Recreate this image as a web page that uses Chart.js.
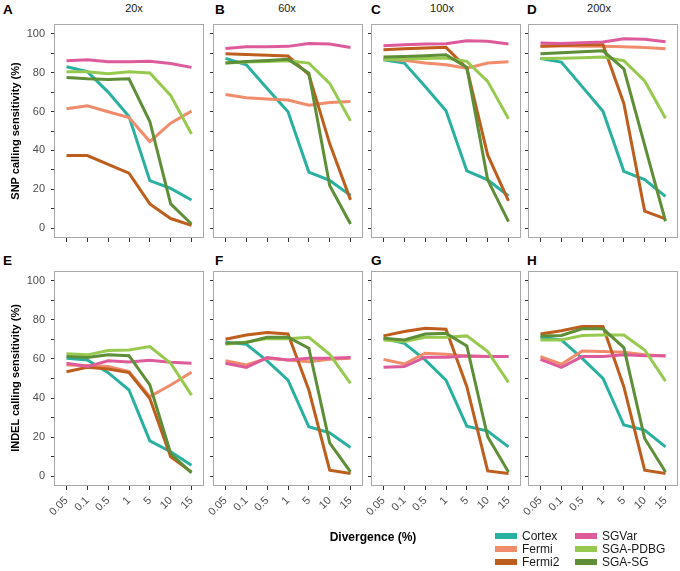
<!DOCTYPE html>
<html><head><meta charset="utf-8">
<script src="https://cdn.jsdelivr.net/npm/chart.js@4.4.1/dist/chart.umd.min.js"></script>
<style>
body{margin:0;background:#fff;width:680px;height:571px;position:relative;overflow:hidden;font-family:"Liberation Sans",Arial,Helvetica,sans-serif;}
.abs{position:absolute;white-space:nowrap;}
canvas{position:absolute;}
.letter{font-weight:bold;font-size:13.5px;line-height:13.5px;color:#000;}
.ptitle{font-size:11px;line-height:11px;color:#1a1a1a;width:60px;text-align:center;}
.ytitle{font-weight:bold;font-size:11px;line-height:12px;color:#000;transform:translate(-50%,-50%) rotate(-90deg);}
.xtitle{font-weight:bold;font-size:12px;line-height:12px;color:#000;transform:translateX(-50%);}
.sw{position:absolute;width:22px;height:6px;}
.lt{font-size:12px;line-height:12px;color:#1a1a1a;}
</style></head><body>
<script>
// ---- data ----
const divergence = ['0.05','0.1','0.5','1','5','10','15'];
const methods = ['Cortex','Fermi','Fermi2','SGVar','SGA-PDBG','SGA-SG'];
const methodColors = ['#2AB0A0','#F08C6C','#BD5E1E','#DE5B9B','#98C94F','#5E8E37'];
const coverages = ['20x','60x','100x','200x'];
const yTicks = [0,10,20,30,40,50,60,70,80,90,100];

// rows: Cortex, Fermi, Fermi2, SGVar, SGA-PDBG, SGA-SG
const snp20x = [
  [83, 80.5, 70, 57.5, 24.5, 20.5, 14.5],
  [61.4, 63.0, 59.9, 56.9, 44.6, 54.0, 60.2],
  [37.4, 37.4, 32.8, 28.3, 12.5, 5.0, 1.5],
  [86.1, 86.6, 85.6, 85.6, 85.8, 84.7, 82.7],
  [80.4, 80.4, 79.4, 80.4, 79.8, 68.3, 48.5],
  [77.5, 76.8, 76.5, 76.8, 54.9, 12.5, 2.2]
];
const snp60x = [
  [87.3, 84.0, 71.9, 59.9, 28.9, 24.6, 16.9],
  [68.8, 67.1, 66.4, 65.9, 63.3, 64.7, 65.1],
  [89.7, 89.3, 89.0, 88.6, 79, 43.5, 14.6],
  [92.4, 93.3, 93.3, 93.5, 95.0, 94.7, 92.9],
  [84.9, 85.5, 85.7, 86.1, 84.9, 74.5, 55.2],
  [84.9, 85.7, 86.2, 86.9, 79.7, 22.0, 2.2]
];
const snp100x = [
  [86.6, 84.9, 72.9, 60.4, 29.5, 24.9, 16.6],
  [87.0, 86.3, 84.9, 84.0, 82.3, 84.9, 85.6],
  [91.8, 92.3, 92.6, 93.0, 82.3, 37.7, 14.1],
  [93.8, 94.3, 94.7, 94.9, 96.4, 96.1, 94.7],
  [86.6, 87.0, 87.3, 87.5, 85.8, 75.5, 56.3],
  [88.0, 88.3, 88.7, 89.2, 82.7, 24.9, 3.4]
];
const snp200x = [
  [87.3, 85.4, 72.8, 60.2, 29.3, 25.0, 16.4],
  [93.6, 93.8, 93.6, 93.5, 93.3, 92.9, 92.3],
  [93.5, 94.0, 94.3, 94.3, 64.2, 8.8, 4.8],
  [95.2, 95.0, 95.4, 95.7, 97.4, 97.2, 95.9],
  [87.3, 87.4, 87.6, 88.0, 86.1, 75.7, 56.5],
  [89.7, 90.2, 90.7, 91.2, 81.9, 42.7, 3.6]
];
const indel20x = [
  [60.3, 59.5, 53.0, 44.1, 18.1, 12.5, 5.6],
  [56.9, 56.6, 56.1, 53.5, 40.7, 46.7, 53.2],
  [53.5, 55.7, 54.9, 53.0, 39.8, 9.9, 2.2],
  [57.8, 56.1, 59.1, 58.5, 59.3, 58.3, 57.8],
  [62.6, 62.1, 64.3, 64.6, 66.3, 57.8, 41.5],
  [61.2, 60.7, 62.1, 61.7, 46.7, 11.6, 1.7]
];
const indel60x = [
  [68.5, 67.5, 59.0, 49.2, 25.3, 22.2, 14.7],
  [59.1, 56.9, 60.3, 59.5, 58.6, 59.8, 60.3],
  [70.1, 72.3, 73.5, 72.8, 44.1, 3.1, 1.4],
  [57.8, 55.7, 60.7, 59.5, 60.3, 60.3, 60.7],
  [67.5, 68.7, 70.4, 70.4, 71.1, 62.4, 47.5],
  [68.0, 68.4, 71.1, 71.1, 65.5, 17.1, 2.2]
];
const indel100x = [
  [70.6, 68.0, 59.5, 49.2, 25.6, 23.1, 15.0],
  [59.8, 57.4, 62.9, 62.4, 61.5, 61.2, 61.2],
  [71.8, 74.0, 75.7, 75.2, 45.8, 2.7, 1.4],
  [55.7, 56.1, 60.9, 60.9, 61.5, 61.2, 61.2],
  [69.7, 68.9, 71.1, 71.1, 71.8, 63.8, 48.0],
  [70.6, 69.7, 72.8, 73.2, 66.7, 20.2, 2.2]
];
const indel200x = [
  [71.1, 69.7, 60.3, 50.1, 26.2, 23.6, 15.0],
  [61.2, 57.3, 64.1, 63.8, 63.4, 62.2, 61.5],
  [72.8, 74.4, 76.6, 76.6, 45.8, 3.1, 1.4],
  [59.8, 55.7, 61.2, 61.2, 62.1, 61.7, 61.7],
  [69.7, 69.7, 72.0, 72.3, 72.3, 64.6, 48.7],
  [71.8, 72.0, 75.4, 75.4, 65.8, 19.3, 2.2]
];

const snpPanels = [snp20x, snp60x, snp100x, snp200x];
const indelPanels = [indel20x, indel60x, indel100x, indel200x];
const topLetters = ['A','B','C','D'];
const bottomLetters = ['E','F','G','H'];

// ---- layout ----
const FONT = '"Liberation Sans", Arial, Helvetica, sans-serif';
const boxLefts = [54, 213, 371, 528];
const boxW = 150;
const YW = 50;
const rows = [
  {top:24, h:214, xh:6, panels:snpPanels, showX:false},
  {top:271, h:215, xh:45, panels:indelPanels, showX:true}
];

const boxPlugin = {
  id:'box',
  afterDraw(chart){
    const {ctx, chartArea:a} = chart;
    ctx.save();
    ctx.strokeStyle = '#A8A8A8';
    ctx.lineWidth = 1;
    ctx.strokeRect(Math.round(a.left)+0.5, Math.round(a.top)+0.5, Math.round(a.right-a.left)-1, Math.round(a.bottom-a.top)-1);
    ctx.restore();
  }
};

function zeroPad(s){ s.paddingTop=0; s.paddingBottom=0; s.paddingLeft=0; s.paddingRight=0; }

rows.forEach((row, r) => {
  row.panels.forEach((panel, c) => {
    const cv = document.createElement('canvas');
    const W = YW + boxW + 2, H = 2 + row.h + row.xh;
    cv.width = W; cv.height = H;
    cv.style.left = (boxLefts[c] - YW) + 'px';
    cv.style.top = (row.top - 2) + 'px';
    cv.style.width = W + 'px'; cv.style.height = H + 'px';
    document.body.appendChild(cv);
    const showY = (c === 0);
    new Chart(cv.getContext('2d'), {
      type:'line',
      data:{
        datasets: methods.map((m, k) => ({
          label:m,
          data: panel[k].map((v, i) => ({x:i, y:v})),
          borderColor: methodColors[k],
          backgroundColor: methodColors[k],
          borderWidth:3,
          pointRadius:0,
          tension:0,
          fill:false,
          order: methods.length - k
        }))
      },
      options:{
        responsive:false, animation:false, devicePixelRatio:1,
        layout:{padding:{top:2, right:2, left:0, bottom:0}},
        plugins:{legend:{display:false}, tooltip:{enabled:false}},
        events:[],
        scales:{
          x:{
            type:'linear', min:-0.6, max:6.6,
            afterBuildTicks: s => { s.ticks = divergence.map((d, i) => ({value:i})); },
            afterFit: s => { s.height = row.xh; zeroPad(s); },
            grid:{display:true, drawOnChartArea:false, drawTicks:true, tickLength:4, color:'#333', lineWidth:1},
            border:{display:false},
            ticks:{
              autoSkip:false, minRotation:45, maxRotation:45, padding:4,
              color:'#4D4D4D', font:{size:11, family:FONT},
              callback: v => row.showX ? divergence[v] : ''
            }
          },
          y:{
            type:'linear', min:-5, max:105,
            afterBuildTicks: s => { s.ticks = yTicks.map(v => ({value:v})); },
            afterFit: s => { s.width = YW; zeroPad(s); },
            grid:{display:true, drawOnChartArea:false, drawTicks:true, tickLength:3, color:'#333', lineWidth:1},
            border:{display:false},
            ticks:{
              padding:6, color:'#4D4D4D', font:{size:11, family:FONT},
              callback: v => (showY && v % 20 === 0) ? String(v) : ''
            }
          }
        }
      },
      plugins:[boxPlugin]
    });
  });
});

// ---- text ----
function addText(cls, text, left, top){
  const d = document.createElement('div');
  d.className = 'abs ' + cls;
  d.textContent = text;
  d.style.left = left + 'px';
  d.style.top = top + 'px';
  document.body.appendChild(d);
  return d;
}
const letterX = [3, 215, 371, 527];
const titleCX = [134, 287, 442, 599];
topLetters.forEach((L, i) => addText('letter', L, letterX[i], 3));
bottomLetters.forEach((L, i) => addText('letter', L, letterX[i], 254));
coverages.forEach((t, i) => addText('ptitle', t, titleCX[i] - 30, 3));
addText('ytitle', 'SNP calling sensitivity (%)', 15, 131);
addText('ytitle', 'INDEL calling sensitivity (%)', 15, 378);
addText('xtitle', 'Divergence (%)', 373, 531);

// legend
const legX = [495, 575];
const legY = [536, 549, 562];
methods.forEach((m, k) => {
  const col = Math.floor(k / 3), rr = k % 3;
  const sw = document.createElement('div');
  sw.className = 'sw';
  sw.style.background = methodColors[k];
  sw.style.left = legX[col] + 'px';
  sw.style.top = (legY[rr] - 3) + 'px';
  document.body.appendChild(sw);
  addText('lt', m, legX[col] + 27, legY[rr] - 6);
});
</script>
</body></html>
